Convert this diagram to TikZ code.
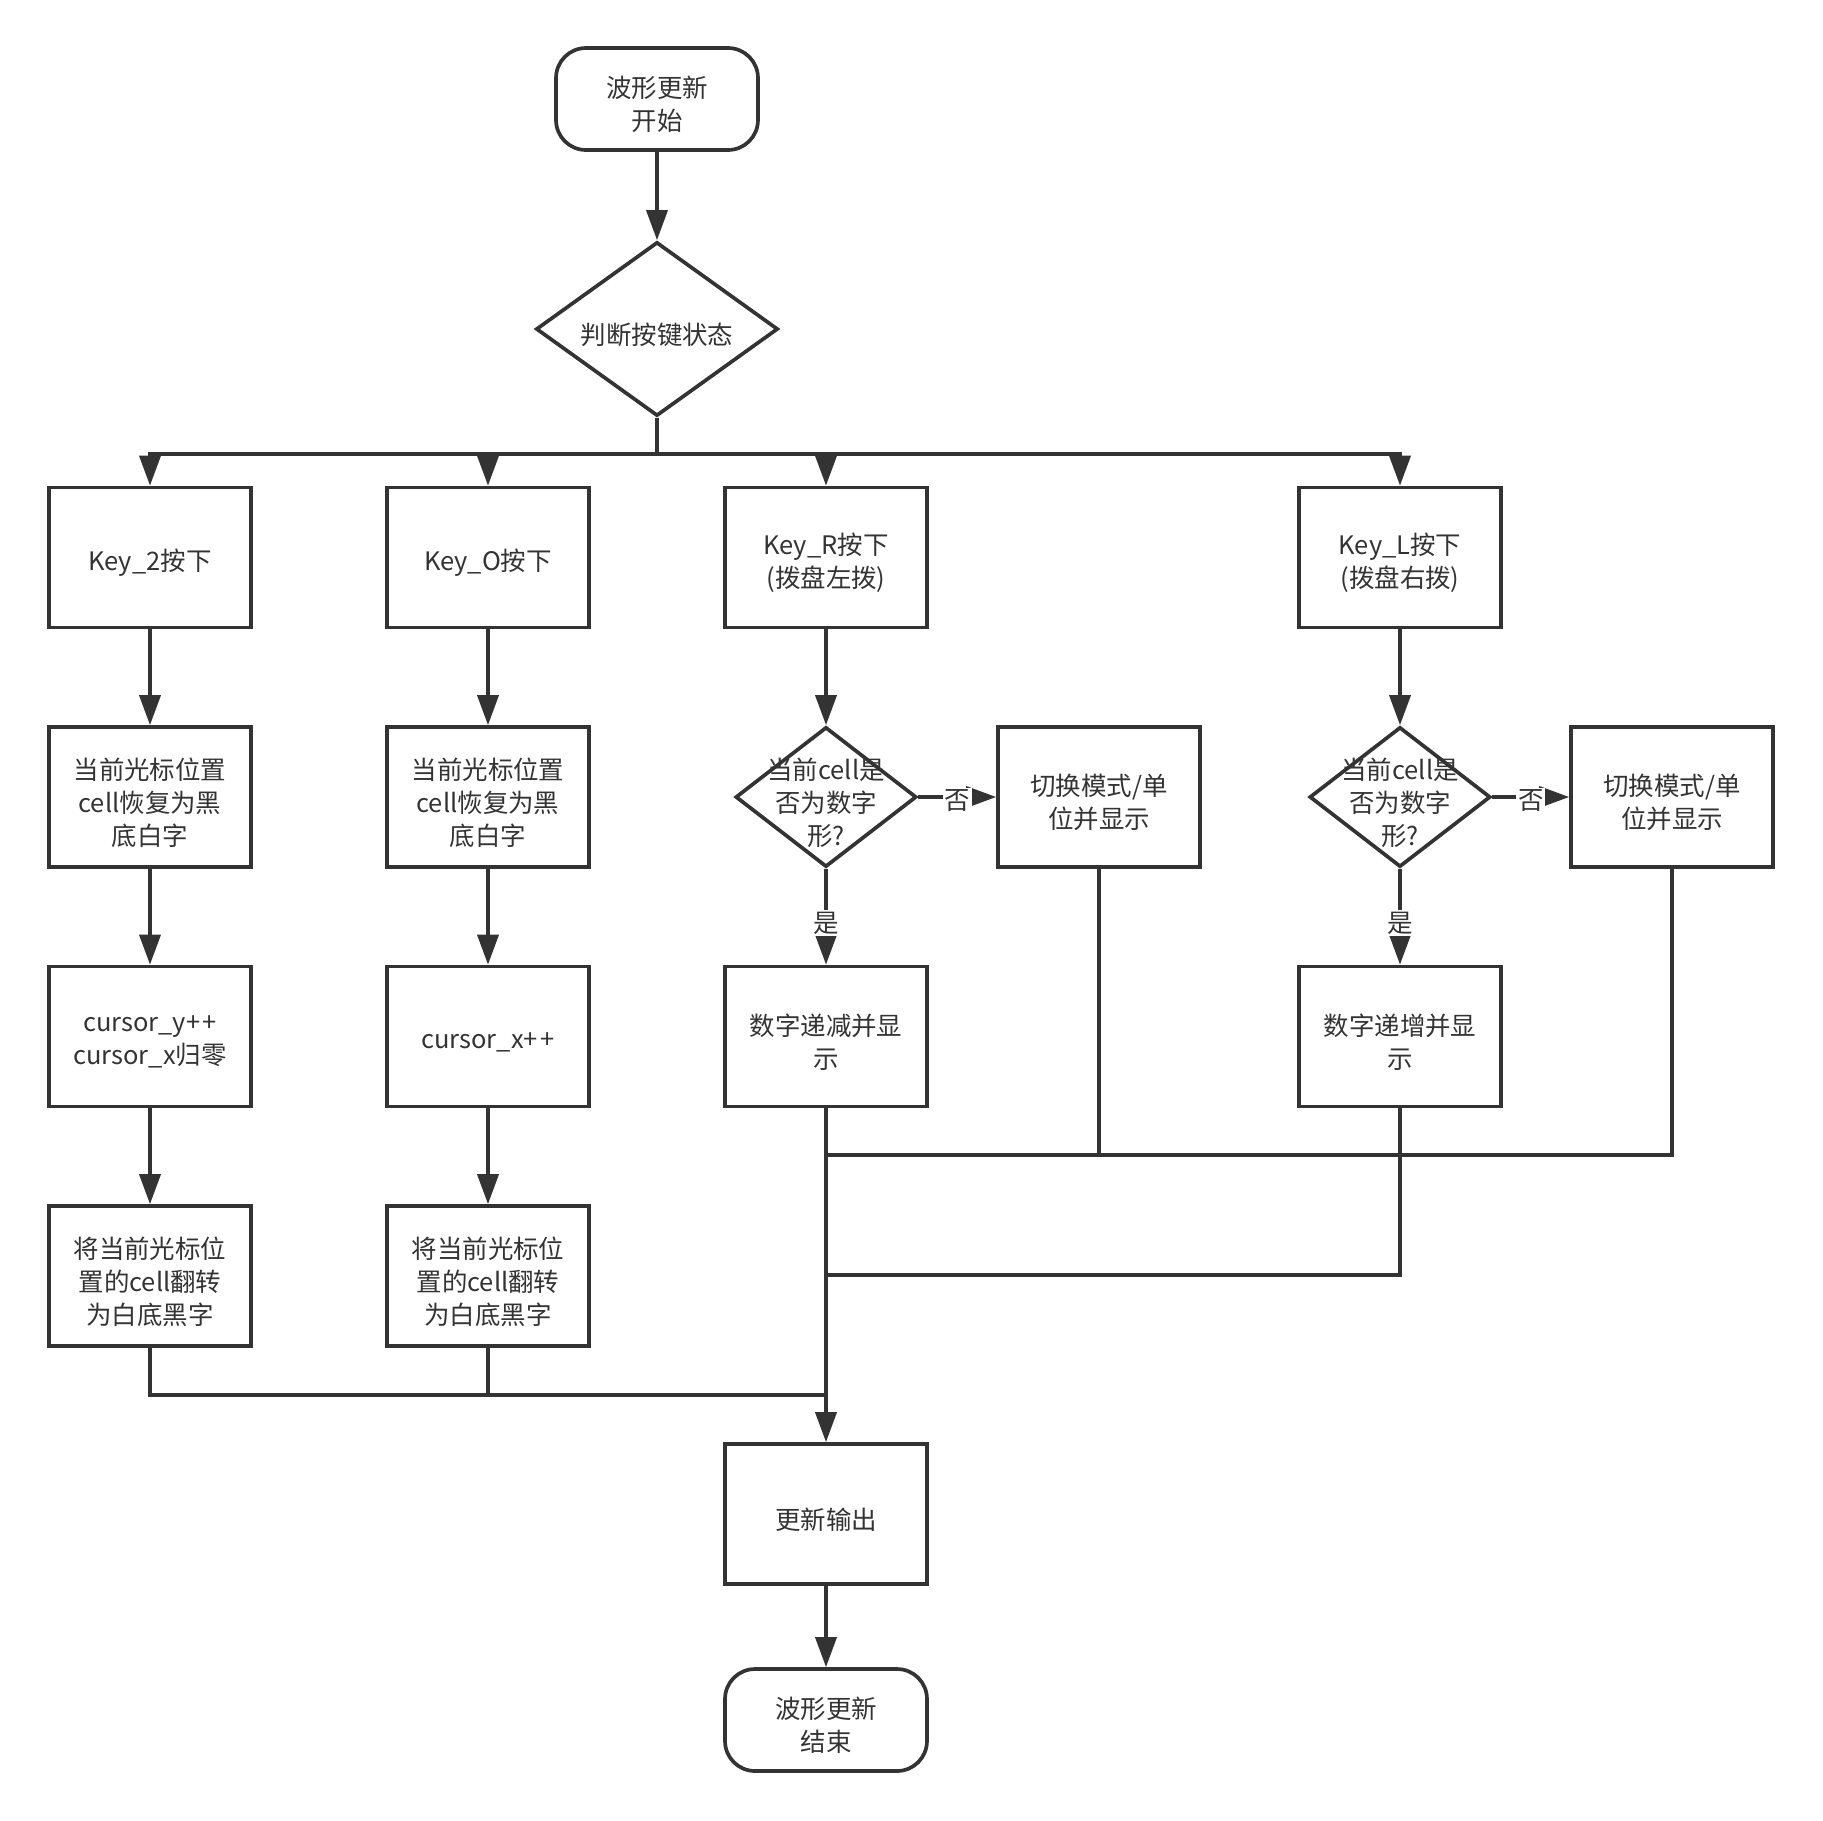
\documentclass[tikz,border=0pt]{standalone}
\usepackage{fontspec}
\setmainfont{Noto Sans CJK SC}
\usetikzlibrary{shapes.geometric,arrows.meta}
\definecolor{inkgray}{HTML}{333333}

\begin{document}
\begin{tikzpicture}[x=0.02cm, y=-0.02cm]
    \useasboundingbox (0,0) rectangle (1823,1820);
    \tikzset{TextStyle/.style={text=inkgray, align=center, inner sep=0pt, yshift=-0.11cm,
        font=\fontsize{14.5pt}{18.7pt}\selectfont}}
    \tikzset{Caption/.style={label={[TextStyle]center:{#1}}}}
    \tikzset{BaseStyle/.style={draw=inkgray, line width=2.1pt, inner sep=0pt}}
    \tikzset{BoxStyle/.style={BaseStyle, rectangle, minimum width=4.04cm, minimum height=2.8cm}}
    \tikzset{TermStyle/.style={BoxStyle, rounded corners=0.6cm, minimum height=2.04cm}}
    \tikzset{DecisionStyle/.style={BaseStyle, diamond, minimum width=3.62cm, minimum height=2.8cm}}

    % start and key check
    \node[TermStyle, Caption={波形更新\\开始}] (start) at (657,99) {};
    \node[DecisionStyle, minimum width=4.84cm, minimum height=3.48cm,
        Caption={判断按键状态}] (judge) at (657,329) {};

    % key boxes
    \node[BoxStyle, Caption={Key\_2按下}] (key2) at (150,557.5) {};
    \node[BoxStyle, Caption={Key\_O按下}] (keyO) at (488,557.5) {};
    \node[BoxStyle, Caption={Key\_R按下\\(拨盘左拨)}] (keyR) at (826,557.5) {};
    \node[BoxStyle, Caption={Key\_L按下\\(拨盘右拨)}] (keyL) at (1400,557.5) {};

    % second row
    \node[BoxStyle, Caption={当前光标位置\\cell恢复为黑\\底白字}] (restore2) at (150,797) {};
    \node[BoxStyle, Caption={当前光标位置\\cell恢复为黑\\底白字}] (restoreO) at (488,797) {};
    \node[DecisionStyle, Caption={当前cell是\\否为数字\\形?}] (decR) at (826,797) {};
    \node[DecisionStyle, Caption={当前cell是\\否为数字\\形?}] (decL) at (1400,797) {};
    \node[BoxStyle, Caption={切换模式/单\\位并显示}] (modeR) at (1099,797) {};
    \node[BoxStyle, Caption={切换模式/单\\位并显示}] (modeL) at (1672,797) {};

    % third row
    \node[BoxStyle, Caption={cursor\_y+\kern1.5pt+\\cursor\_x归零}] (curY) at (150,1036.5) {};
    \node[BoxStyle, Caption={cursor\_x+\kern1.5pt+}] (curX) at (488,1036.5) {};
    \node[BoxStyle, Caption={数字递减并显\\示}] (minus) at (826,1036.5) {};
    \node[BoxStyle, Caption={数字递增并显\\示}] (plus) at (1400,1036.5) {};

    % fourth row
    \node[BoxStyle, Caption={将当前光标位\\置的cell翻转\\为白底黑字}] (flip2) at (150,1276) {};
    \node[BoxStyle, Caption={将当前光标位\\置的cell翻转\\为白底黑字}] (flipO) at (488,1276) {};

    % output and end
    \node[BoxStyle, Caption={更新输出}] (update) at (826,1514) {};
    \node[TermStyle, Caption={波形更新\\结束}] (finish) at (826,1720) {};

    \coordinate (j1) at (826,1155);
    \coordinate (j2) at (826,1275);
    \coordinate (j3) at (826,1395);

    \tikzset{LineStyle/.style={draw=inkgray, line width=2.1pt}}
    \tikzset{EdgeStyle/.style={LineStyle, -{Triangle[length=0.6cm, width=0.42cm]}}}
    \tikzset{LabelStyle/.style={text=inkgray, fill=white, inner sep=1pt, yshift=-0.07cm,
        font=\fontsize{14.5pt}{18.7pt}\selectfont}}

    \draw[EdgeStyle] (start) -- (judge);
    \draw[EdgeStyle] (judge.south) -- ++(0,36) -| (key2);
    \draw[EdgeStyle] (judge.south) -- ++(0,36) -| (keyO);
    \draw[EdgeStyle] (judge.south) -- ++(0,36) -| (keyR);
    \draw[EdgeStyle] (judge.south) -- ++(0,36) -| (keyL);

    \draw[EdgeStyle] (key2) -- (restore2);
    \draw[EdgeStyle] (restore2) -- (curY);
    \draw[EdgeStyle] (curY) -- (flip2);

    \draw[EdgeStyle] (keyO) -- (restoreO);
    \draw[EdgeStyle] (restoreO) -- (curX);
    \draw[EdgeStyle] (curX) -- (flipO);

    \draw[EdgeStyle] (keyR) -- (decR);
    \draw[EdgeStyle] (decR) -- node[LabelStyle, pos=0.53] {是} (minus);
    \draw[EdgeStyle] (decR) -- node[LabelStyle] {否} (modeR);

    \draw[EdgeStyle] (keyL) -- (decL);
    \draw[EdgeStyle] (decL) -- node[LabelStyle, pos=0.53] {是} (plus);
    \draw[EdgeStyle] (decL) -- node[LabelStyle] {否} (modeL);

    % merging back
    \draw[LineStyle] (modeR) |- (j1);
    \draw[LineStyle] (modeL) |- (j1);
    \draw[LineStyle] (plus) |- (j2);
    \draw[LineStyle] (flip2) |- (j3);
    \draw[LineStyle] (flipO) |- (j3);
    \draw[EdgeStyle] (minus) -- (update);
    \draw[EdgeStyle] (update) -- (finish);
\end{tikzpicture}
\end{document}
